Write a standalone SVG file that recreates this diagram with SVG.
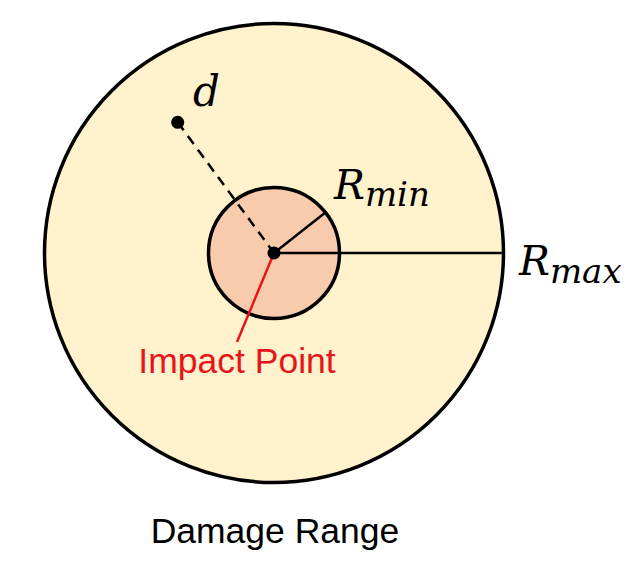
<svg xmlns="http://www.w3.org/2000/svg" width="638" height="569" viewBox="0 0 638 569">
<style>
.sans{font-family:"Liberation Sans",Arial,sans-serif;font-size:35.5px}
.math{font-family:"DejaVu Serif","Liberation Serif",serif;font-style:italic}
.ln{stroke:#000;stroke-width:2.5;fill:none}
</style>
<rect width="638" height="569" fill="#fff"/>
<g id="outer">
<circle cx="274" cy="253" r="229.5" fill="#FFF2CC" stroke="#000" stroke-width="3.5"/>
</g>
<g id="inner">
<circle cx="274" cy="253" r="65.5" fill="#F8CBAD" stroke="#000" stroke-width="3.5"/>
</g>
<g id="connectors">
<line class="ln" x1="177.7" y1="122.3" x2="274" y2="253" stroke-dasharray="10,7"/>
<line class="ln" x1="274" y1="253" x2="326" y2="212"/>
<line class="ln" x1="274" y1="253" x2="502" y2="253"/>
<line x1="274" y1="253" x2="237" y2="342" stroke="#E8141B" stroke-width="2.5"/>
</g>
<g id="d-point">
<circle cx="177.7" cy="122.3" r="6.5" fill="#000"/>
<text class="math" x="193" y="106" font-size="42">d</text>
</g>
<g id="center">
<circle cx="274" cy="253" r="6.5" fill="#000"/>
</g>
<g id="rmin-label">
<text class="math" x="334" y="199" font-size="41">R<tspan font-size="34" dy="7">min</tspan></text>
</g>
<g id="rmax-label">
<text class="math" x="519" y="275" font-size="41">R<tspan font-size="34" dy="8">max</tspan></text>
</g>
<g id="impact-label">
<text class="sans" x="237" y="373" text-anchor="middle" fill="#E8141B">Impact Point</text>
</g>
<g id="title">
<text class="sans" x="275" y="543" text-anchor="middle" fill="#000">Damage Range</text>
</g>
</svg>
